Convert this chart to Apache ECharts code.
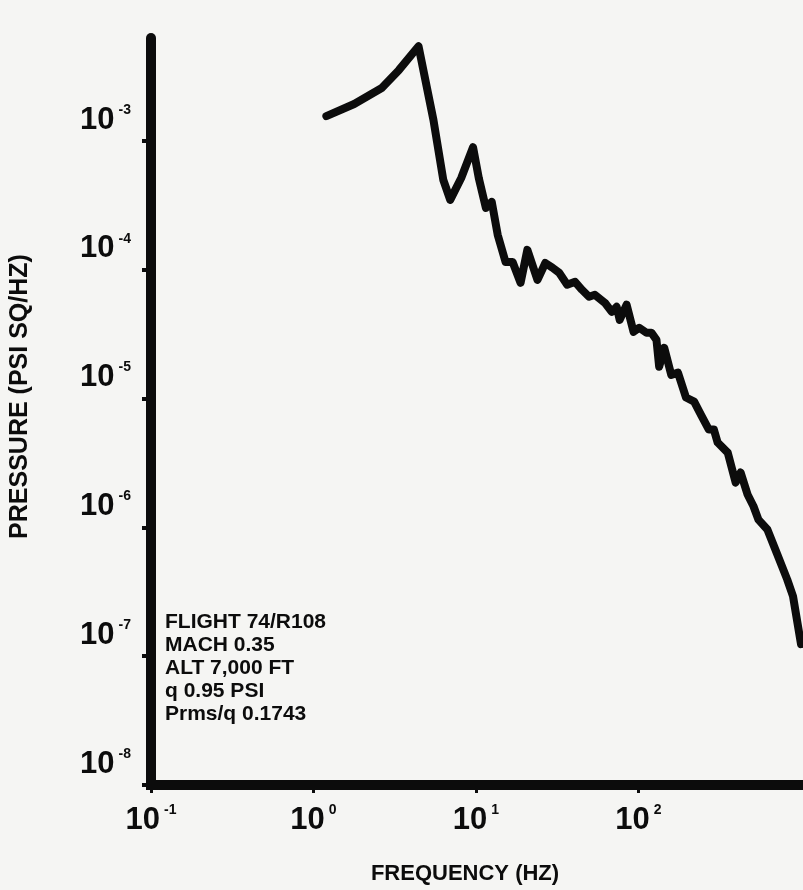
<!DOCTYPE html>
<html>
<head>
<meta charset="utf-8">
<script src="https://cdn.jsdelivr.net/npm/echarts@6/dist/echarts.min.js"></script>
<style>
  html, body { margin: 0; padding: 0; background: #f5f5f3; }
  #chart { width: 803px; height: 890px; }
</style>
</head>
<body>
<div id="chart"></div>
<script>
// Pressure power spectral density, flight 74/R108
const freqHz = [1.20, 1.78, 2.63, 3.35, 4.43, 5.47, 6.29, 6.94, 8.11, 9.59,
  10.4, 11.5, 12.5, 13.6, 15.2, 16.8, 18.8, 20.7, 23.9, 26.7,
  29.5, 32.5, 36.4, 40.7, 44.9, 49.6, 53.9, 62.1, 68.5, 73.4,
  76.6, 84.5, 93.2, 101, 112, 120, 129, 134, 144, 159,
  175, 196, 220, 242, 271, 291, 307, 354, 396, 425,
  469, 510, 547, 621, 714, 822, 893, 1000];
const psd = [1.56e-3, 1.94e-3, 2.58e-3, 3.55e-3, 5.44e-3, 1.46e-3, 4.99e-4, 3.49e-4, 5.16e-4, 8.97e-4,
  5.16e-4, 3.03e-4, 3.37e-4, 1.87e-4, 1.15e-4, 1.15e-4, 7.92e-5, 1.43e-4, 8.35e-5, 1.13e-4,
  1.04e-4, 9.49e-5, 7.66e-5, 8.07e-5, 7.00e-5, 6.18e-5, 6.40e-5, 5.55e-5, 4.72e-5, 5.16e-5,
  4.09e-5, 5.36e-5, 3.30e-5, 3.55e-5, 3.25e-5, 3.25e-5, 2.86e-5, 1.77e-5, 2.48e-5, 1.53e-5,
  1.59e-5, 1.02e-5, 9.49e-6, 7.52e-6, 5.75e-6, 5.75e-6, 4.56e-6, 3.81e-6, 2.23e-6, 2.67e-6,
  1.80e-6, 1.46e-6, 1.15e-6, 9.63e-7, 6.18e-7, 3.95e-7, 2.92e-7, 1.24e-7];

const xTicks = [0.1, 1, 10, 100];
const yTicks = [1e-8, 1e-7, 1e-6, 1e-5, 1e-4, 1e-3];
const flightNotes = ['FLIGHT 74/R108', 'MACH 0.35', 'ALT 7,000 FT', 'q 0.95 PSI', 'Prms/q 0.1743'];

const INK = '#0c0c0c';
const FONT = '"Liberation Sans", Arial, sans-serif';

// "10" with the decade exponent raised beside it
function powerLabel(v) {
  const e = Math.round(Math.log10(v));
  return '{b|10}{e|' + e + '}';
}
const labelRich = {
  b: { fontSize: 31, fontWeight: 'bold', fontFamily: FONT, color: INK, lineHeight: 34 },
  e: { fontSize: 14, fontWeight: 'bold', fontFamily: FONT, color: INK, verticalAlign: 'top', lineHeight: 34, padding: [0, 0, 0, 4] }
};

const chart = echarts.init(document.getElementById('chart'));
chart.setOption({
  backgroundColor: '#f5f5f3',
  animation: false,
  grid: { left: 147, right: 2, top: 38, bottom: 104, containLabel: false },
  xAxis: {
    type: 'log', logBase: 10, min: 0.1, max: 1000,
    name: 'FREQUENCY (HZ)', nameLocation: 'middle', nameGap: 78,
    nameTextStyle: { fontSize: 22, fontWeight: 'bold', fontFamily: FONT, color: INK, padding: [0, 22, 0, 0] },
    axisLine: { lineStyle: { color: INK, width: 10, cap: 'square' } },
    axisTick: { customValues: xTicks, length: 8, lineStyle: { color: INK, width: 3 } },
    axisLabel: {
      customValues: xTicks, margin: 18, formatter: powerLabel, rich: labelRich
    },
    splitLine: { show: false }, minorTick: { show: false }
  },
  yAxis: {
    type: 'log', logBase: 10, min: 1e-8, max: Math.pow(10, -2.2),
    name: 'PRESSURE (PSI SQ/HZ)', nameLocation: 'middle', nameGap: 118, nameRotate: 90,
    nameTextStyle: { fontSize: 25, fontWeight: 'bold', fontFamily: FONT, color: INK, padding: [0, 0, 0, 30] },
    axisLine: { lineStyle: { color: INK, width: 10 } },
    axisTick: { customValues: yTicks, length: 9, lineStyle: { color: INK, width: 4 } },
    axisLabel: {
      customValues: yTicks, margin: 20, formatter: powerLabel, rich: labelRich,
      verticalAlign: 'bottom', padding: [0, 0, 4, 0]
    },
    splitLine: { show: false }, minorTick: { show: false }
  },
  graphic: [{
    type: 'text', left: 165, top: 611,
    style: {
      text: flightNotes.join('\n'),
      font: 'bold 21px ' + FONT, fill: INK, lineHeight: 23
    }
  }],
  series: [{
    type: 'line',
    data: freqHz.map((f, i) => [f, psd[i]]),
    showSymbol: false, smooth: false, clip: true,
    lineStyle: { color: INK, width: 8, join: 'round', cap: 'round' }
  }]
});
</script>
</body>
</html>
